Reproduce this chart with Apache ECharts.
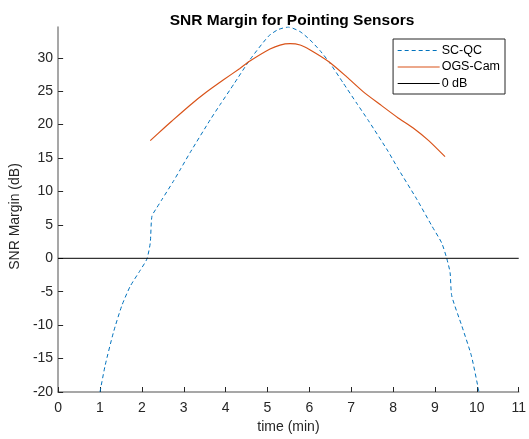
<!DOCTYPE html>
<html>
<head>
<meta charset="utf-8">
<script src="https://cdn.jsdelivr.net/npm/echarts@6/dist/echarts.min.js"></script>
<style>
html,body{margin:0;padding:0;background:#fff;}
#chart{width:529px;height:439px;}
</style>
</head>
<body>
<div id="chart"></div>
<script>
// SC-QC (x in min, SNR margin dB)
const scqcTime = [1.00, 1.12, 1.32, 1.52, 1.72, 1.96, 2.12, 2.20, 2.24, 2.36, 2.47, 2.75, 2.91, 3.15, 3.63, 3.87, 4.20, 4.58, 5.02, 5.25, 5.50, 5.78, 6.01, 6.25, 6.49, 6.80, 7.13, 7.41, 7.88, 8.12, 8.56, 8.92, 9.16, 9.28, 9.36, 9.40, 9.64, 9.87, 10.05];
const scqcSnr  = [-20.0, -16.1, -11.1, -7.1, -4.2, -1.8, -0.1, 2.3, 6.3, 7.6, 8.7, 11.5, 13.2, 15.8, 20.7, 23.0, 26.1, 29.7, 33.2, 34.2, 34.6, 33.9, 32.7, 31.1, 29.2, 26.3, 23.2, 20.6, 16.0, 13.4, 8.9, 4.9, 2.3, 0.0, -2.1, -5.6, -10.1, -14.6, -20.0];
// OGS-Cam
const ogsTime = [2.20, 2.55, 2.71, 3.15, 3.55, 3.95, 4.34, 4.58, 5.06, 5.30, 5.54, 5.78, 6.01, 6.49, 6.90, 7.29, 7.69, 8.12, 8.48, 8.85, 9.24];
const ogsSnr  = [17.6, 19.6, 20.5, 22.9, 24.9, 26.7, 28.4, 29.5, 31.3, 31.9, 32.1, 31.9, 31.2, 29.3, 27.1, 24.9, 23.0, 21.0, 19.5, 17.6, 15.2];
// 0 dB reference
const zeroTime = [0, 11];
const zeroSnr = [0, 0];
const xTicks = [0,1,2,3,4,5,6,7,8,9,10,11];
const yTicks = [-20,-15,-10,-5,0,5,10,15,20,25,30];

const pairs = (xs, ys) => xs.map((x, i) => [x, ys[i]]);
const font = 'Liberation Sans, Arial, Helvetica, sans-serif';
const textColor = '#262626';

const chart = echarts.init(document.getElementById('chart'), null, {renderer: 'canvas'});
chart.setOption({
  animation: false,
  backgroundColor: '#ffffff',
  textStyle: {fontFamily: font},
  title: {
    text: 'SNR Margin for Pointing Sensors',
    left: 287, top: 8, textAlign: 'center',
    textStyle: {fontFamily: font, fontSize: 15.5, fontWeight: 'bold', color: '#000'}
  },
  grid: {left: 58, right: 10, top: 27, bottom: 46, containLabel: false},
  legend: {
    orient: 'vertical',
    right: 24, top: 39,
    itemWidth: 42, itemHeight: 10, itemGap: 3.5,
    padding: [5, 5, 4, 4],
    borderColor: '#262626', borderWidth: 1, borderRadius: 0,
    backgroundColor: '#fff',
    itemStyle: {opacity: 0},
    lineStyle: {width: 1.2},
    textStyle: {fontFamily: font, fontSize: 12.5, color: '#000', padding: [0,0,0,-3]},
    data: ['SC-QC', 'OGS-Cam', '0 dB']
  },
  xAxis: {
    type: 'value', min: 0, max: 11, interval: 1,
    name: 'time (min)', nameLocation: 'middle', nameGap: 28,
    nameTextStyle: {fontFamily: font, fontSize: 14, color: textColor},
    axisLine: {onZero: false, lineStyle: {color: '#8a8a8a', width: 1.5}},
    axisTick: {inside: true, length: 5, lineStyle: {color: textColor}, customValues: xTicks},
    axisLabel: {fontFamily: font, fontSize: 14, color: textColor, margin: 9, customValues: xTicks},
    splitLine: {show: false}
  },
  yAxis: {
    type: 'value', min: -20, max: 34.6, interval: 5,
    name: 'SNR Margin (dB)', nameLocation: 'middle', nameGap: 33, nameRotate: 90,
    nameTextStyle: {fontFamily: font, fontSize: 14, color: textColor, padding: [0, 14, 0, 0]},
    axisLine: {onZero: false, lineStyle: {color: '#8a8a8a', width: 1.5}},
    axisTick: {inside: true, length: 5, lineStyle: {color: textColor}, customValues: yTicks},
    axisLabel: {fontFamily: font, fontSize: 14, color: textColor, margin: 5, customValues: yTicks},
    splitLine: {show: false}
  },
  series: [
    {
      name: 'SC-QC', type: 'line', data: pairs(scqcTime, scqcSnr),
      symbol: 'none', smooth: 0.2,
      lineStyle: {color: '#0072BD', width: 1, type: [4, 3]},
      itemStyle: {color: '#0072BD'}
    },
    {
      name: 'OGS-Cam', type: 'line', data: pairs(ogsTime, ogsSnr),
      symbol: 'none', smooth: 0.2,
      lineStyle: {color: '#D95319', width: 1.2},
      itemStyle: {color: '#D95319'}
    },
    {
      name: '0 dB', type: 'line', data: pairs(zeroTime, zeroSnr),
      symbol: 'none',
      lineStyle: {color: '#000000', width: 1},
      itemStyle: {color: '#000000'}
    }
  ]
});
</script>
</body>
</html>
